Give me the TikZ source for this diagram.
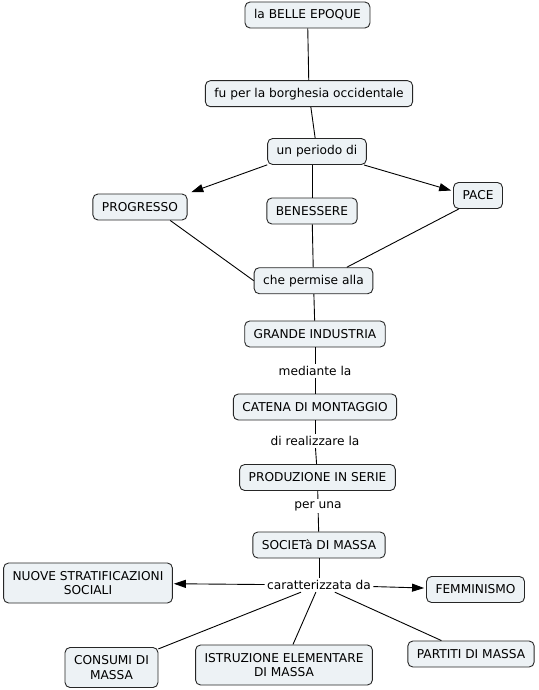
\documentclass[tikz,border=0pt]{standalone}
\usepackage{fontspec}
\setmainfont{DejaVu Sans}
\usetikzlibrary{arrows.meta}

\definecolor{cmfill}{RGB}{237,242,245}
\newcommand{\cmfont}{\fontsize{12.2}{14.8}\selectfont}

\tikzset{
  concept/.style={draw=black!85, fill=cmfill, rounded corners=5pt,
    inner xsep=9pt, inner ysep=4pt, minimum height=26pt, align=center, font=\cmfont},
  twoline/.style={minimum height=40pt},
  linkphrase/.style={inner sep=2pt, align=center, font=\cmfont},
}

\begin{document}
\begin{tikzpicture}[x=1pt, y=-1pt, >={Triangle[length=12pt, width=8pt]}, line width=0.9pt]
  \useasboundingbox (0,0) rectangle (538,690);
  % ===== parte alta =====
  \node[concept] (belle) at (307.5,15) {la BELLE EPOQUE};
  \node[concept] (fu) at (309,93.7) {fu per la borghesia occidentale};
  \node[concept] (per) at (317,151.5) {un periodo di};
  \node[concept] (prog) at (140,207) {PROGRESSO};
  \node[concept] (ben) at (312,211) {BENESSERE};
  \node[concept] (pace) at (478,195.5) {PACE};
  \node[concept] (che) at (313.5,280.7) {che permise alla};
  \draw (belle) -- (fu);
  \draw (fu) -- (per);
  \draw[->, shorten >=4pt] (per.195) -- (prog.north east);
  \draw[->, shorten >=2pt] (per.-16) -- (pace.170);
  \draw (ben.north) -- (ben.north |- per.south);
  \draw (prog.-24) -- (che.west);
  \draw (ben) -- (che);
  \draw (pace.215) -- (che.22);
  % ===== catena centrale =====
  \node[concept] (gi) at (315,334) {GRANDE INDUSTRIA};
  \node[linkphrase] (med) at (315,371) {mediante la};
  \node[concept] (cat) at (315,407) {CATENA DI MONTAGGIO};
  \node[linkphrase] (real) at (315,441) {di realizzare la};
  \node[concept] (prod) at (317.5,477.5) {PRODUZIONE IN SERIE};
  \node[linkphrase] (una) at (318,506) {per una};
  \node[concept] (soc) at (319,545) {SOCIETà DI MASSA};
  \node[linkphrase] (car) at (319,585) {caratterizzata da};
  \draw (che) -- (gi);
  \draw (gi) -- (med);
  \draw (med) -- (cat);
  \draw (cat) -- (real);
  \draw (real) -- (prod);
  \draw (prod) -- (una);
  \draw (una) -- (soc);
  \draw (soc) -- (car);
  % ===== caratteristiche =====
  \node[concept, twoline] (nuove) at (88,583) {NUOVE STRATIFICAZIONI\\SOCIALI};
  \node[concept] (fem) at (475.5,589.5) {FEMMINISMO};
  \node[concept, twoline] (cons) at (111.5,667.5) {CONSUMI DI\\MASSA};
  \node[concept, twoline] (ist) at (284,665) {ISTRUZIONE ELEMENTARE\\DI MASSA};
  \node[concept] (part) at (471,654) {PARTITI DI MASSA};
  \draw[->, shorten >=1pt] (car) -- (nuove);
  \draw[->, shorten >=2pt] (car) -- (fem);
  \draw (car) -- (cons);
  \draw (car) -- (ist);
  \draw (car) -- (part);
\end{tikzpicture}
\end{document}
